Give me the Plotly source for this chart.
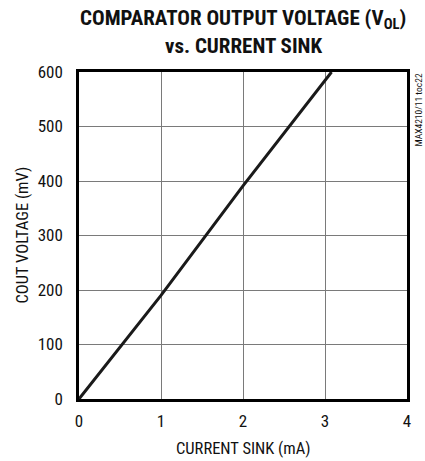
import plotly.graph_objects as go

current_ma = [0, 1, 2, 3.08]
vout_mv = [0, 190, 391, 600]
x_ticks = [0, 1, 2, 3, 4]
y_ticks = [0, 100, 200, 300, 400, 500, 600]

FONT = "Roboto Condensed, Liberation Sans Narrow, sans-serif"
L, R, T, B = 79, 18, 72, 62
W, H = 425, 461
PW = W - L - R
PH = H - T - B

fig = go.Figure()
fig.add_trace(go.Scatter(x=current_ma, y=vout_mv, mode="lines",
                         line=dict(color="#1a1a1a", width=3), showlegend=False))

fig.update_layout(
    width=W, height=H,
    margin=dict(l=L, r=R, t=T, b=B),
    paper_bgcolor="white", plot_bgcolor="white",
    font=dict(family=FONT, size=17, color="#111"),
    xaxis=dict(range=[0, 4], tickvals=x_ticks, showgrid=True, gridcolor="#7a7a7a", gridwidth=1,
               zeroline=False, showline=True, linecolor="black", linewidth=2.5, mirror=True,
               ticks="", ticklabelstandoff=5, tickfont=dict(size=17)),
    yaxis=dict(range=[0, 600], tickvals=y_ticks, showgrid=True, gridcolor="#7a7a7a", gridwidth=1,
               zeroline=False, showline=True, linecolor="black", linewidth=2.5, mirror=True,
               ticks="", ticklabelstandoff=10, tickfont=dict(size=17)),
)

def py(page_y):
    return 1 + (T - page_y) / PH

def px(page_x):
    return (page_x - L) / PW

fig.add_annotation(text="<b>COMPARATOR OUTPUT VOLTAGE (V<sub>OL</sub>)</b>", xref="paper", yref="paper",
                   x=0.5, y=py(20), xanchor="center", yanchor="middle", showarrow=False,
                   font=dict(family=FONT, size=21, color="#111"))
fig.add_annotation(text="<b>vs. CURRENT SINK</b>", xref="paper", yref="paper",
                   x=0.5, y=py(46), xanchor="center", yanchor="middle", showarrow=False,
                   font=dict(family=FONT, size=21, color="#111"))
fig.add_annotation(text="CURRENT SINK (mA)", xref="paper", yref="paper",
                   x=0.5, y=py(448), xanchor="center", yanchor="middle", showarrow=False,
                   font=dict(family=FONT, size=16.5, color="#111"))
fig.add_annotation(text="COUT VOLTAGE (mV)", xref="paper", yref="paper",
                   x=px(22), y=0.5, xanchor="center", yanchor="middle", textangle=-90,
                   showarrow=False, font=dict(family=FONT, size=16.5, color="#111"))
fig.add_annotation(text="MAX4210/11 toc22", xref="paper", yref="paper",
                   x=px(418), y=1.0, xanchor="center", yanchor="top", textangle=-90,
                   showarrow=False, font=dict(family=FONT, size=9.5, color="#111"))
fig.write_html("out.html", config={"displayModeBar": False},
               post_script="document.body.style.margin='0';document.body.style.overflow='hidden';")
